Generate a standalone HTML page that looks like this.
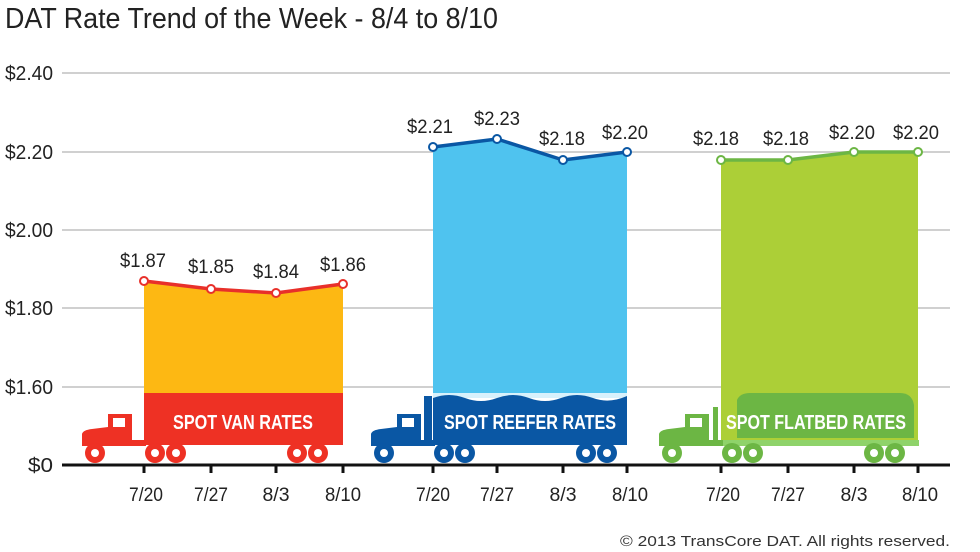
<!DOCTYPE html>
<html><head><meta charset="utf-8"><style>
html,body{margin:0;padding:0;background:#fff;}
svg{display:block;font-family:"Liberation Sans",sans-serif;}
.l{font-size:20px;fill:#222;}
.t{font-size:19px;fill:#222;text-anchor:middle;}
.v{font-size:19px;fill:#222;text-anchor:middle;}
.b{font-size:20px;font-weight:bold;fill:#fff;text-anchor:middle;}
</style></head><body>
<svg width="980" height="552" viewBox="0 0 980 552">
<defs>
<g id="truck">
<path d="M82,446 L82,434 Q83,430 92,429 L108,427 L108,414 L132,414 L132,440 L146,440 L146,446 Z"/>
<rect x="113" y="418" width="12" height="9" fill="#fff"/>
<circle cx="95" cy="453" r="10"/>
<circle cx="155" cy="453" r="10"/><circle cx="176" cy="453" r="10"/>
<circle cx="297" cy="453" r="10"/><circle cx="318" cy="453" r="10"/>
<g fill="#fff"><circle cx="95" cy="453" r="4"/><circle cx="155" cy="453" r="4"/><circle cx="176" cy="453" r="4"/><circle cx="297" cy="453" r="4"/><circle cx="318" cy="453" r="4"/></g>
</g>
</defs>
<text x="5" y="28" font-size="29" fill="#222" textLength="493" lengthAdjust="spacingAndGlyphs">DAT Rate Trend of the Week - 8/4 to 8/10</text>
<g stroke="#d0d0d0" stroke-width="2">
<line x1="62" y1="73" x2="950" y2="73"/><line x1="62" y1="152" x2="950" y2="152"/>
<line x1="62" y1="230" x2="950" y2="230"/><line x1="62" y1="308" x2="950" y2="308"/>
<line x1="62" y1="387" x2="950" y2="387"/>
</g>
<g class="l" text-anchor="end">
<text x="53" y="80" textLength="48" lengthAdjust="spacingAndGlyphs">$2.40</text><text x="53" y="159" textLength="48" lengthAdjust="spacingAndGlyphs">$2.20</text><text x="53" y="237" textLength="48" lengthAdjust="spacingAndGlyphs">$2.00</text>
<text x="53" y="315" textLength="48" lengthAdjust="spacingAndGlyphs">$1.80</text><text x="53" y="394" textLength="48" lengthAdjust="spacingAndGlyphs">$1.60</text><text x="53" y="472" textLength="25" lengthAdjust="spacingAndGlyphs">$0</text>
</g>
<!-- VAN -->
<polygon points="144,281 211,289 276,293 343,284 343,393 144,393" fill="#FDB813"/>
<rect x="144" y="393" width="199" height="52" fill="#EE3124"/>
<g fill="#EE3124"><use href="#truck"/></g>
<text class="b" x="243" y="429" textLength="140" lengthAdjust="spacingAndGlyphs">SPOT VAN RATES</text>
<polyline points="144,281 211,289 276,293 343,284" fill="none" stroke="#E8302A" stroke-width="3.5"/>
<g fill="#fff" stroke="#E8302A" stroke-width="2"><circle cx="144" cy="281" r="4"/><circle cx="211" cy="289" r="4"/><circle cx="276" cy="293" r="4"/><circle cx="343" cy="284" r="4"/></g>
<g class="v"><text x="143" y="267" textLength="46" lengthAdjust="spacingAndGlyphs">$1.87</text><text x="211" y="273" textLength="46" lengthAdjust="spacingAndGlyphs">$1.85</text><text x="276" y="278" textLength="46" lengthAdjust="spacingAndGlyphs">$1.84</text><text x="343" y="271" textLength="46" lengthAdjust="spacingAndGlyphs">$1.86</text></g>
<!-- REEFER -->
<polygon points="433,147 497,139 563,160 627,152 627,396 433,396" fill="#4FC3EF"/>
<rect x="433" y="393" width="194" height="5" fill="#d8f1fc"/>
<path d="M433,398 q16,-6 32,0 q16,6 32,0 q16,-6 32,0 q16,6 32,0 q16,-6 32,0 q16,6 34,-2 L627,445 L433,445 Z" fill="#0A57A4"/>
<rect x="424" y="396" width="8" height="44" fill="#0A57A4"/>
<g fill="#0A57A4" transform="translate(289,0)"><use href="#truck"/></g>
<text class="b" x="530" y="429" textLength="172" lengthAdjust="spacingAndGlyphs">SPOT REEFER RATES</text>
<polyline points="433,147 497,139 563,160 627,152" fill="none" stroke="#0A57A4" stroke-width="3.5"/>
<g fill="#fff" stroke="#0A57A4" stroke-width="2"><circle cx="433" cy="147" r="4"/><circle cx="497" cy="139" r="4"/><circle cx="563" cy="160" r="4"/><circle cx="627" cy="152" r="4"/></g>
<g class="v"><text x="430" y="133" textLength="46" lengthAdjust="spacingAndGlyphs">$2.21</text><text x="497" y="125" textLength="46" lengthAdjust="spacingAndGlyphs">$2.23</text><text x="562" y="145" textLength="46" lengthAdjust="spacingAndGlyphs">$2.18</text><text x="625" y="139" textLength="46" lengthAdjust="spacingAndGlyphs">$2.20</text></g>
<!-- FLATBED -->
<polygon points="721,160 788,160 854,152 918,152 918,440 721,440" fill="#ACCF37"/>
<path d="M737,438 L737,400 Q740,393 750,393 L900,393 Q912,393 914,405 L914,438 Z" fill="#6CB644"/>
<rect x="714" y="440" width="205" height="6" fill="#8FD36A"/>
<rect x="713" y="407" width="5" height="38" fill="#6CB644"/>
<g fill="#6CB644" transform="translate(577,0)"><use href="#truck"/></g>
<text class="b" x="816" y="429" textLength="180" lengthAdjust="spacingAndGlyphs">SPOT FLATBED RATES</text>
<polyline points="721,160 788,160 854,152 918,152" fill="none" stroke="#6CB644" stroke-width="3.5"/>
<g fill="#fff" stroke="#6CB644" stroke-width="2"><circle cx="721" cy="160" r="4"/><circle cx="788" cy="160" r="4"/><circle cx="854" cy="152" r="4"/><circle cx="918" cy="152" r="4"/></g>
<g class="v"><text x="716" y="145" textLength="46" lengthAdjust="spacingAndGlyphs">$2.18</text><text x="786" y="145" textLength="46" lengthAdjust="spacingAndGlyphs">$2.18</text><text x="852" y="139" textLength="46" lengthAdjust="spacingAndGlyphs">$2.20</text><text x="916" y="139" textLength="46" lengthAdjust="spacingAndGlyphs">$2.20</text></g>
<!-- axis -->
<line x1="62" y1="465" x2="950" y2="465" stroke="#111" stroke-width="3"/>
<g stroke="#111" stroke-width="3">
<line x1="144" y1="465" x2="144" y2="473"/><line x1="211" y1="465" x2="211" y2="473"/><line x1="276" y1="465" x2="276" y2="473"/><line x1="343" y1="465" x2="343" y2="473"/>
<line x1="433" y1="465" x2="433" y2="473"/><line x1="497" y1="465" x2="497" y2="473"/><line x1="563" y1="465" x2="563" y2="473"/><line x1="627" y1="465" x2="627" y2="473"/>
<line x1="721" y1="465" x2="721" y2="473"/><line x1="788" y1="465" x2="788" y2="473"/><line x1="854" y1="465" x2="854" y2="473"/><line x1="918" y1="465" x2="918" y2="473"/>
</g>
<g class="t">
<text x="146" y="501" textLength="34" lengthAdjust="spacingAndGlyphs">7/20</text><text x="211" y="501" textLength="34" lengthAdjust="spacingAndGlyphs">7/27</text><text x="276" y="501" textLength="27" lengthAdjust="spacingAndGlyphs">8/3</text><text x="343" y="501" textLength="36" lengthAdjust="spacingAndGlyphs">8/10</text>
<text x="433" y="501" textLength="34" lengthAdjust="spacingAndGlyphs">7/20</text><text x="497" y="501" textLength="34" lengthAdjust="spacingAndGlyphs">7/27</text><text x="563" y="501" textLength="27" lengthAdjust="spacingAndGlyphs">8/3</text><text x="630" y="501" textLength="36" lengthAdjust="spacingAndGlyphs">8/10</text>
<text x="723" y="501" textLength="34" lengthAdjust="spacingAndGlyphs">7/20</text><text x="788" y="501" textLength="34" lengthAdjust="spacingAndGlyphs">7/27</text><text x="854" y="501" textLength="27" lengthAdjust="spacingAndGlyphs">8/3</text><text x="920" y="501" textLength="36" lengthAdjust="spacingAndGlyphs">8/10</text>
</g>
<text x="950" y="546" text-anchor="end" font-size="15" fill="#333" textLength="330" lengthAdjust="spacingAndGlyphs">© 2013 TransCore DAT. All rights reserved.</text>
</svg>
</body></html>
